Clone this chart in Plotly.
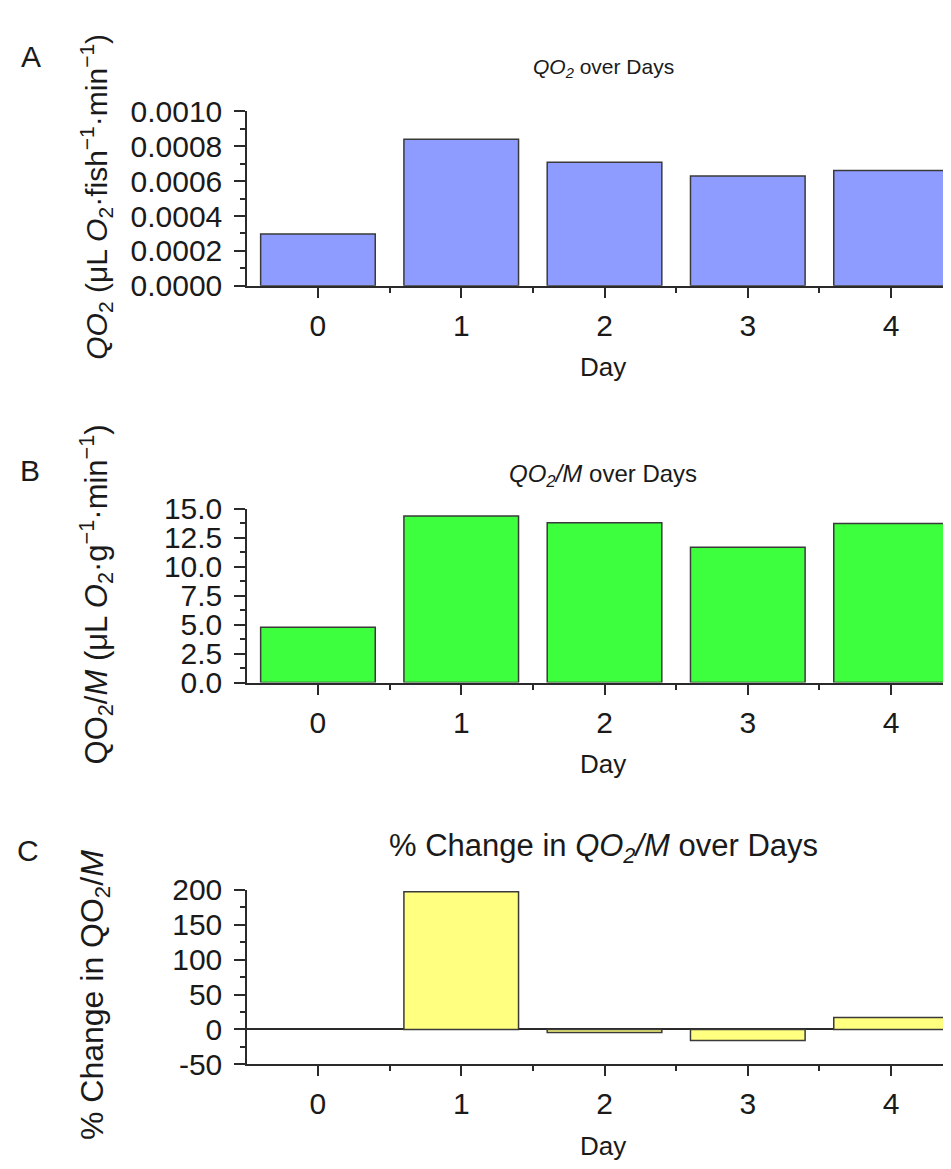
import plotly.graph_objects as go

# ---- data ----
days = [0, 1, 2, 3, 4]
day_labels = ["0", "1", "2", "3", "4"]
qo2 = [0.000297, 0.000840, 0.000708, 0.000630, 0.000662]
qo2_per_mass = [4.77, 14.39, 13.80, 11.68, 13.75]
pct_change = [None, 196.8, -4.2, -15.7, 17.1]

qo2_ticks = [0.0, 0.0002, 0.0004, 0.0006, 0.0008, 0.0010]
qm_ticks = [0.0, 2.5, 5.0, 7.5, 10.0, 12.5, 15.0]
pct_ticks = [-50, 0, 50, 100, 150, 200]
pct_ticklabels = ["-50", "0", "50", "100", "150", "200"]

W, H = 951, 1169
FONT = "Liberation Sans, Arial, sans-serif"
AX = "#2a2a2a"
EDGE = "#3a3a3a"


def py(px):  # pixel-from-top -> paper fraction
    return 1 - px / H


fig = go.Figure()
fig.add_trace(go.Bar(x=days, y=qo2, width=0.8, marker=dict(color="#8f9cff", line=dict(color=EDGE, width=1.5)),
                     xaxis="x", yaxis="y", showlegend=False))
fig.add_trace(go.Bar(x=days, y=qo2_per_mass, width=0.8, marker=dict(color="#3dff3d", line=dict(color=EDGE, width=1.5)),
                     xaxis="x2", yaxis="y2", showlegend=False))
fig.add_trace(go.Bar(x=days, y=pct_change, width=0.8, marker=dict(color="#ffff80", line=dict(color=EDGE, width=1.5)),
                     xaxis="x3", yaxis="y3", showlegend=False))

x_dom = [239.3 / W, 1.0]
x_range = [-0.493, 4.474]
minor_x = [d - 0.5 for d in days] + [days[-1] + 0.5]


def xaxis(anchor):
    return dict(domain=x_dom, range=x_range, anchor=anchor,
                tickmode="array", tickvals=days, ticktext=day_labels,
                ticks="outside", ticklen=10, tickwidth=2, tickcolor=AX,
                minor=dict(tickmode="array", tickvals=minor_x, ticks="outside", ticklen=5, tickwidth=2, tickcolor=AX),
                showline=True, linecolor=AX, linewidth=2, showgrid=False, zeroline=False,
                tickfont=dict(size=30, color="#1a1a1a", family=FONT), ticklabelstandoff=2,
                title=dict(text="Day", font=dict(size=26, color="#1a1a1a", family=FONT), standoff=17))


def yaxis(anchor, dom, rng, tickvals, ticktext, minor_dtick, zeroline=False):
    return dict(domain=dom, range=rng, anchor=anchor,
                tickmode="array", tickvals=tickvals, ticktext=ticktext,
                ticks="outside", ticklen=11, tickwidth=2, tickcolor=AX,
                minor=dict(tickmode="linear", tick0=0, dtick=minor_dtick, ticks="outside", ticklen=5,
                           tickwidth=2, tickcolor=AX),
                showline=True, linecolor=AX, linewidth=2, showgrid=False,
                zeroline=zeroline, zerolinecolor=AX, zerolinewidth=2,
                tickfont=dict(size=30, color="#1a1a1a", family=FONT), ticklabelstandoff=6)


fig.update_layout(
    width=W, height=H,
    margin=dict(l=0, r=0, t=0, b=0),
    paper_bgcolor="white", plot_bgcolor="white",
    font=dict(family=FONT, color="#1a1a1a"),
    bargap=0.2,
    xaxis=xaxis("y"),
    xaxis2=xaxis("y2"),
    xaxis3=xaxis("y3"),
    yaxis=yaxis("x", [py(269.3), py(90)], [0, 0.0010002], qo2_ticks,
                [f"{v:.4f}" for v in qo2_ticks], 0.0001),
    yaxis2=yaxis("x2", [py(677.7), py(499)], [0, 15.003], qm_ticks,
                 [f"{v:.1f}" for v in qm_ticks], 1.25),
    yaxis3=yaxis("x3", [py(1070.7), py(890.7)], [-50, 200.05], pct_ticks, pct_ticklabels, 25, zeroline=True),
)

ann = []


def add_text(text, x, y, size, angle=0, xanchor="center", yanchor="middle"):
    ann.append(dict(text=text, x=x / W, y=py(y), xref="paper", yref="paper", showarrow=False,
                    textangle=angle, xanchor=xanchor, yanchor=yanchor,
                    font=dict(size=size, family=FONT, color="#1a1a1a")))


# panel letters
add_text("A", 23, 33, 30)
add_text("B", 22, 459, 30)
add_text("C", 20, 851, 30)

# panel titles
add_text("<i>QO<sub>2</sub></i> over Days", 595, 45, 21)
add_text("<i>QO<sub>2</sub>/M</i> over Days", 595, 465, 24)
add_text("% Change in <i>QO<sub>2</sub>/M</i> over Days", 595, 848, 31)

# y-axis titles
add_text("<i>QO</i><sub>2</sub> (μL <i>O</i><sub>2</sub>·fish<sup>−1</sup>·min<sup>−1</sup>)",
         88, 8, 30, angle=-90, yanchor="top")
add_text("QO<sub>2</sub>/<i>M</i> (μL <i>O</i><sub>2</sub>·g<sup>−1</sup>·min<sup>−1</sup>)",
         88, 410, 31, angle=-90, yanchor="top")
add_text("% Change in QO<sub>2</sub>/<i>M</i>", 86, 848, 32, angle=-90, yanchor="top")

fig.update_layout(annotations=ann)

fig.write_html("out.html")
